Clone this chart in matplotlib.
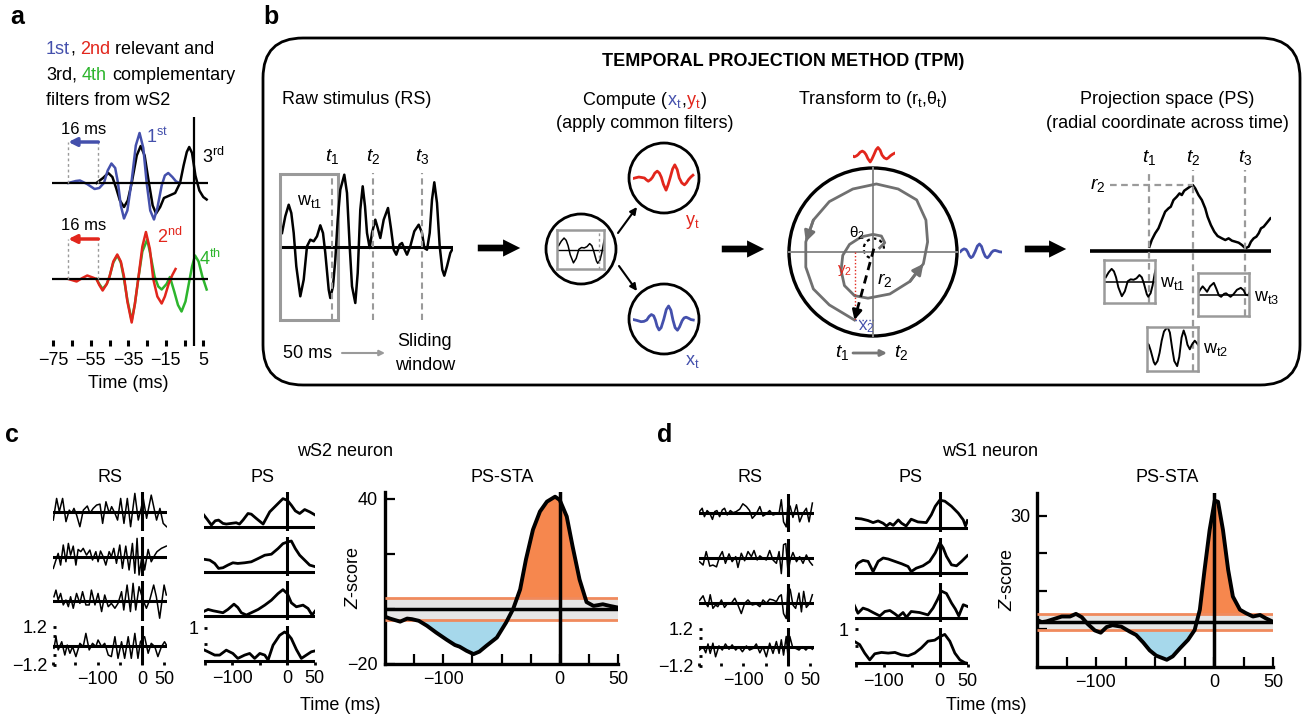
import matplotlib
matplotlib.use('Agg')
import matplotlib.pyplot as plt
import numpy as np
from matplotlib.patches import FancyBboxPatch, Circle, Rectangle, Arc, FancyArrowPatch

plt.rcParams.update({
    'font.family': ['Liberation Sans', 'DejaVu Sans'],
    'font.size': 13,
    'mathtext.fontset': 'custom',
    'mathtext.rm': 'Liberation Sans',
    'mathtext.it': 'Liberation Sans:italic',
    'mathtext.bf': 'Liberation Sans:bold',
    'mathtext.sf': 'Liberation Sans',
    'axes.unicode_minus': True,
})

# ---------------- data ----------------
# panel a : filters (time ms, amplitude)
f1_t = [-67, -63, -60.8, -57, -53, -50.5, -48, -46, -44, -42, -40.5, -39, -37.3, -35.5, -33.2, -31, -29, -27, -25.2,
        -23.3, -21.3, -19.5, -17.2, -15.5, -13.7, -11.5, -9.5, -7.5]
f1_v = [0, 0.04, 0.05, -0.02, -0.12, -0.1, 0.0, 0.25, 0.39, 0.3, 0.0, -0.45, -0.71, -0.55, 0.05, 0.75, 1.0, 0.7, 0.0,
        -0.55, -0.73, -0.5, -0.05, 0.15, 0.2, 0.12, 0.03, 0.0]
f2_t = [-67, -62.6, -59.5, -56.9, -54, -52, -50.5, -48.7, -46.5, -45, -43, -40.9, -39, -37.3, -35.5, -33.2, -31.5,
        -29.7, -27.5, -25.6, -23.5, -21.7, -19.5, -17.2, -15.5, -13.5, -11.5, -9.8]
f2_v = [0, -0.05, 0.02, 0.07, 0.03, 0, -0.12, -0.23, -0.1, 0.05, 0.35, 0.49, 0.35, 0.05, -0.45, -0.87, -0.5, 0.0, 0.65,
        0.94, 0.6, 0.0, -0.35, -0.49, -0.35, -0.1, 0.08, 0.2]
f3_t = [-52, -48.5, -45.7, -43.5, -41.5, -39.5, -37.3, -35.3, -33.2, -30.5, -28.4, -26.3, -24, -22, -20.2, -18, -16,
        -13, -10, -7.4, -5.5, -3.8, -2.5, -1, 0.8, 2.9, 5, 6.8]
f3_v = [0, 0.1, 0.2, 0.12, -0.1, -0.35, -0.48, -0.35, 0.0, 0.55, 0.74, 0.55, 0.0, -0.45, -0.61, -0.48, -0.3, -0.25,
        -0.2, 0.0, 0.35, 0.62, 0.72, 0.6, 0.15, -0.15, -0.28, -0.33]
f4_t = [-52, -50.5, -48.7, -46.5, -45, -43, -40.9, -39, -37.3, -35.5, -33.2, -31.5, -29.7, -27.5, -24.9, -23, -21, -19,
        -17.2, -14.6, -12.8, -10.5, -8.5, -6.6, -4.5, -2.5, -1, 0.6, 2.5, 4.5, 6.8]
f4_v = [0, -0.1, -0.2, -0.1, 0.05, 0.33, 0.47, 0.33, 0.0, -0.42, -0.83, -0.5, 0.0, 0.55, 0.79, 0.45, 0.05, -0.15,
        -0.21, -0.1, 0.04, -0.25, -0.52, -0.65, -0.45, -0.05, 0.25, 0.47, 0.35, 0.05, -0.21]
a_xticks = [-75, -65, -55, -45, -35, -25, -15, -5, 5]
a_xlabels = ['\u221275', '', '\u221255', '', '\u221235', '', '\u221215', '', '5']

# panel b : raw stimulus schematic
raw_t = [0, 3.3, 6.7, 9.3, 11.7, 14.3, 18.3, 21.7, 25, 28.3, 31.7, 35, 38.3, 41, 43.3, 46.7, 48.3, 51, 53.3, 55.7,
         58.3, 62.3, 65, 67.7, 70, 73.3, 75.7, 78.3, 80.7, 83, 85, 87.7, 90, 93.3, 95.7, 98.3, 101.7, 106, 109, 111.7,
         114.3, 117.7, 120, 122.7, 125, 128.3, 132.3, 136.7, 140, 142.3, 145, 147.7, 150, 152.3, 155, 157.7, 160.3,
         162.3, 165, 168.3, 171]
raw_a = [1.4, 3.07, 4.23, 3.4, 1.4, -1.93, -4.93, -3.27, 0.07, 0.73, 0.57, 1.07, 2.17, 1.4, -0.6, -4.27, -5.1, -3.93,
         -1.27, 2.73, 5.73, 7.23, 5.4, 0.07, -3.93, -5.6, -2.6, 3.73, 6.07, 4.07, 1.4, -0.1, 1.4, 2.73, 1.9, 0.9, 2.73,
         3.9, 1.83, -0.27, -0.77, 0.23, 0.4, -0.27, -0.77, 0.07, 1.57, 2.23, 1.4, -0.1, -0.27, 1.4, 4.73, 6.47, 4.4,
         0.07, -2.27, -2.87, -1.93, -0.6, -0.1]
raw_marks = [50, 91, 140]
# panel b : projection-space schematic
ps_t = [0, 2.3, 5.7, 9, 12.3, 15.7, 19, 21.3, 24, 27.3, 30, 32.3, 34.7, 38, 41.3, 43.3, 45.7, 49, 52.3, 55.7, 58, 61.3,
        64.7, 68, 72.3, 75.7, 79, 82.3, 85.7, 89, 92.3, 95.7, 99, 101.3, 104, 106.7, 109, 111.3, 114, 116.7, 120.7]
ps_r = [0.13, 0.33, 0.53, 0.68, 0.93, 1.18, 1.28, 1.33, 1.53, 1.63, 1.73, 1.68, 1.81, 1.88, 1.95, 1.98, 1.88, 1.68,
        1.53, 1.28, 1.03, 0.78, 0.58, 0.45, 0.38, 0.33, 0.38, 0.31, 0.28, 0.25, 0.18, 0.08, 0.13, 0.28, 0.38, 0.43,
        0.53, 0.68, 0.73, 0.83, 0.98]
ps_marks = [0, 43.3, 95.7]
# panel b : spiral (unit-circle coords)
spiral_x = [0.08, 0.14, 0.10, 0.0, -0.14, -0.28, -0.36, -0.38, -0.34, -0.22, -0.06, 0.20, 0.44, 0.60, 0.65, 0.63,
            0.52, 0.30, 0.04, -0.24, -0.52, -0.71, -0.80, -0.80, -0.71, -0.52, -0.22]
spiral_y = [0.05, 0.11, 0.19, 0.21, 0.18, 0.09, -0.04, -0.22, -0.40, -0.52, -0.55, -0.50, -0.35, -0.14, 0.12, 0.38,
            0.62, 0.75, 0.81, 0.75, 0.60, 0.38, 0.12, -0.18, -0.44, -0.63, -0.81]

# panel c : wS2 neuron
c_rs1_t = [-200, -192.5, -186.5, -179, -171.4, -164, -158.6, -153.4, -147.4, -140, -132.3, -123.3, -117.3, -110,
           -102.3, -94.7, -88.7, -81.2, -73.7, -68.4, -61, -55, -48, -40.6, -33, -25.6, -16, -8.3, -2, 3, 10.5, 21,
           33, 40.6, 48, 55.6]
c_rs1_v = [-0.53, 0.84, 0, 0.84, -0.63, 0.1, -0.1, 0.21, -0.21, -0.95, 0.1, 0.36, -0.1, 0.21, 0.42, 0.48, -0.74,
           0.63, -0.1, 0.32, -0.1, -0.53, 0.84, -0.74, 0.84, -0.95, 1.16, -0.53, 0.2, 0.84, -0.42, 1.05, -0.53, 0.21,
           -0.74, -0.95]
c_rs2_t = [-200, -194, -189, -183.5, -177.5, -171.5, -166, -161, -155, -149, -144, -138, -132.5, -125, -117.5, -111.5,
           -104, -99, -93.5, -87.5, -81.5, -74, -69, -63.5, -57.5, -50, -44, -36.5, -29, -21.5, -16, -11, -6.5, 1, 6,
           14, 21, 29, 34, 44, 55]
c_rs2_v = [-0.74, -0.21, 0.21, -0.53, 0.74, -0.32, 0.84, 0.1, 0.67, -0.53, 0.46, 0.32, 0.53, 0.1, 0.42, -0.21, 0.32,
           -0.32, 0.36, 0, -0.53, 0.32, 0, 0.53, -0.42, 0.74, -0.74, 0.67, -0.84, 0.84, -1.05, 1.16, -1.16, 0.21,
           -0.84, 0.46, -0.32, 0.1, 0.32, 0.53, 0.67]
c_rs3_t = [-198.5, -194, -189, -183.5, -177.5, -171.5, -166, -161, -155, -147.5, -140, -134, -126.5, -119, -114, -106,
           -99, -91, -84, -76, -69, -61, -54, -46, -41, -33.5, -26, -20, -14, -6.5, 2.5, 10, 17.5, 26.5, 32.5, 40,
           50, 55]
c_rs3_v = [0.27, 0.69, 0.06, 0.48, -0.25, 0.06, -0.36, 0.27, -0.46, 0.48, -0.15, 0.59, -0.25, -0.25, 0.69, -0.25,
           0.48, -0.67, 0.38, -0.36, -0.15, -0.46, -0.15, 0.59, -0.57, 1.01, -0.67, 1.12, -0.57, 0.91, 0.06, -0.46,
           0.06, 1.01, 0.27, -1.09, 1.01, 0.38]
c_rs4_t = [-198.5, -194, -189, -181, -174, -168.5, -162.5, -156.5, -149, -140, -132.5, -126.5, -119, -111.5, -104,
           -99, -91, -84, -76, -69, -61, -54, -46, -39, -31, -24, -16, -9, -3.5, 6, 14, 21, 29, 36, 44, 51, 56.5]
c_rs4_v = [-0.17, 0.57, -0.27, 0.25, -0.59, 0.04, -0.48, -0.06, -0.69, 0.15, -0.06, 0.78, -0.27, 0.15, -0.06, 0.36,
           -0.06, 0.15, -0.59, -0.69, 0.57, -0.8, 0.25, -0.8, 0.57, -0.8, 0.78, -0.8, 0.25, 0.57, -0.48, 0.15, -0.06,
           -0.69, -0.06, 0.25, -0.02]
c_ps1_t = [-153, -145.5, -138, -131, -125, -117, -111, -102, -93, -87, -80.6, -71.5, -65.5, -56.4, -44, -32, -20, -8,
           0, 7.3, 14.5, 22.4, 31.5, 40.6, 51]
c_ps1_v = [0.38, 0.22, 0.05, 0.18, 0.2, 0.1, 0.08, 0.1, 0.12, 0.08, 0.2, 0.4, 0.38, 0.25, 0.08, 0.45, 0.65, 0.85, 0.8,
           0.65, 0.48, 0.4, 0.52, 0.45, 0.35]
c_ps2_t = [-153, -141, -132, -125, -117, -108, -99, -90, -77.6, -65.5, -53, -41, -29, -17, -8, 0, 7.3, 14.5, 22.4,
           31.5, 40.6, 51]
c_ps2_v = [0.38, 0.35, 0.25, 0.1, 0.12, 0.2, 0.27, 0.25, 0.27, 0.3, 0.4, 0.5, 0.53, 0.7, 0.85, 0.9, 0.93, 0.7, 0.5,
           0.35, 0.2, 0.15]
c_ps3_t = [-153, -144, -135, -126, -117, -108, -97, -90, -83.6, -74.5, -65.5, -53, -41, -29, -17, -8, 0, 7.3, 16.4,
           28.5, 37.6, 45, 51]
c_ps3_v = [0.12, 0.19, 0.15, 0.12, 0.09, 0.19, 0.35, 0.25, 0.09, 0.02, 0.09, 0.19, 0.32, 0.47, 0.67, 0.79, 0.67, 0.39,
           0.27, 0.32, 0.22, 0.02, 0.15]
c_ps4_t = [-153, -144, -132, -123, -111, -99, -90, -77.6, -68.5, -59.4, -50, -41, -35, -26, -14, -5, 0, 7.3, 16.4,
           25.5, 34.5, 43.6, 51]
c_ps4_v = [0.34, 0.27, 0.17, 0.17, 0.32, 0.22, 0.07, 0.17, 0.22, 0.07, 0.22, 0.17, 0.02, 0.47, 0.77, 0.87, 0.82, 0.67,
           0.34, 0.07, 0.17, 0.27, 0.3]
c_sta_t = [-150, -145.7, -137, -131, -127, -121, -114, -106, -97, -90, -86, -80, -74, -69, -63, -54, -46, -40, -34,
           -29, -23, -17, -11, -4, 0, 6, 11, 17, 23, 29, 37, 43, 50]
c_sta_z = [-2.8, -3.5, -4.6, -3.5, -3.7, -4.3, -6.1, -8.6, -11.2, -13.1, -13.7, -15.2, -16.4, -15.5, -13.4, -10.4,
           -4.9, 0, 7.1, 18, 28.8, 35.4, 39, 40.8, 39.6, 33.6, 22.8, 10.7, 2.5, 1.1, 1.7, 1.1, 0.5]
c_band = (-3.9, 3.9, 0.0)

# panel d : wS1 neuron
d_rs1_t = [-198, -192, -187, -181, -175, -169, -164, -159, -153, -147, -142, -136, -129, -123, -116, -108, -101, -93,
           -86, -80, -71, -63, -56, -48.5, -41, -33.6, -26, -20, -15, -10, -4, 0, 5, 11, 19, 26, 33.6, 41, 47, 54.5]
d_rs1_v = [0.11, 0.33, -0.22, 0.18, 0, -0.4, 0.11, 0.18, -0.22, 0.22, 0.33, -0.11, 0.18, 0.04, 0.11, 0.27, 0.62,
           0.44, 0.18, -0.33, -0.04, 0.44, -0.18, -0.04, 0.18, -0.11, -0.04, 0, 0.89, -0.56, -0.89, 0.67, 0.44, -0.27,
           0.56, -0.56, 0, 0.33, -0.56, 0.67]
d_rs2_t = [-198, -190, -183, -175, -168, -160, -153, -147, -140, -132, -125, -117, -112, -104.5, -97, -89.5, -82, -76,
           -69, -63, -56, -48.5, -41, -33.6, -26, -20, -15, -10, -5, 0, 5, 11, 19, 26, 33.6, 41, 48.5, 54.5]
d_rs2_v = [-0.22, -0.44, 0.44, -0.51, -0.44, -0.56, 0.11, 0.44, -0.33, 0.29, -0.22, 0.11, -0.6, 0.33, -0.16, 0.44,
           0.11, 0.51, -0.11, 0.16, 0, -0.11, 0.51, -0.11, -0.33, 0.44, -1.0, 0.89, 0.96, -0.89, -0.11, 0.38, -0.22,
           0.11, -0.33, 0.22, -0.22, -0.44]
d_rs3_t = [-198, -190, -184, -179, -174, -168, -162, -157, -149, -142, -134, -127, -119, -112, -104.5, -97, -89.5, -80,
           -71, -63, -56, -48.5, -41, -33.6, -26, -20, -15, -10, -4, 0, 5, 11, 17, 24.6, 30, 35, 41, 48.5, 54.5]
d_rs3_v = [0.18, 0.49, 0, -0.22, 0.56, -0.33, -0.11, -0.22, 0.22, -0.27, 0.04, 0, 0.33, -0.11, -0.67, 0, 0.22, -0.11,
           -0.04, -0.22, 0.22, 0, 0.27, 0.22, 0.11, 0.44, 0.56, -0.67, -1.0, 1.11, 0.89, -0.11, -0.33, 0.67, -0.56,
           0.78, -0.27, 0, 0.56]
d_rs4_t = [-198, -190, -184, -179, -174, -168, -162, -154.5, -147, -140, -132, -125, -117, -110, -102, -93, -86, -78,
           -71, -63, -56, -48.5, -41, -33.6, -26, -20, -15, -10, -4, 0, 4, 10, 17, 24.6, 32, 40, 47, 54.5]
d_rs4_v = [-0.18, 0.04, -0.36, 0.22, -0.4, 0.27, -0.62, 0.09, -0.18, 0.22, -0.13, 0.16, -0.18, 0.04, -0.29, 0.09,
           -0.18, -0.07, 0.22, -0.36, 0.04, -0.62, 0.27, -0.4, 0.38, -0.4, 0.49, -0.51, 0.71, -0.62, 0.71, 0.04,
           -0.07, -0.18, 0.04, -0.18, 0.04, -0.13]
d_ps1_t = [-153, -140, -128, -119, -110, -101, -95, -89, -83, -74, -68, -60, -51, -39, -24, -15, -8, 0, 9, 21, 33, 42,
           46, 49.4]
d_ps1_v = [0.28, 0.26, 0.21, 0.15, 0.2, 0.13, 0.05, 0.13, 0.07, 0.23, 0.13, 0.05, 0.25, 0.17, 0.15, 0.38, 0.63, 0.81,
           0.78, 0.63, 0.43, 0.23, 0.05, 0.21]
d_ps2_t = [-153, -146, -137, -128, -119, -110, -101, -92, -80, -68, -56.5, -51, -42, -30, -18, -8, 0, 6, 12, 21, 30,
           39, 49.4]
d_ps2_v = [0.12, 0.3, 0.38, 0.35, 0.05, 0.35, 0.45, 0.42, 0.35, 0.28, 0.2, 0.05, 0.15, 0.22, 0.35, 0.6, 0.9, 0.75,
           0.5, 0.25, 0.22, 0.35, 0.52]
d_ps3_t = [-153, -146, -137, -128, -119, -107, -98, -89, -80, -74, -65.5, -59.5, -51, -36, -21, -12, -4, 3, 12, 21,
           28, 34, 42, 49.4]
d_ps3_v = [0.4, 0.15, 0.3, 0.25, 0.17, 0.07, 0.2, 0.23, 0.13, 0.05, 0.17, 0.03, 0.2, 0.17, 0.1, 0.3, 0.55, 0.8, 0.73,
           0.45, 0.27, 0.07, 0.4, 0.35]
d_ps4_t = [-153, -143, -134, -125, -116, -104, -92, -80, -68.5, -56.5, -44.6, -33, -21, -9, 0, 9, 18, 27, 36, 44.6,
           49.4]
d_ps4_v = [0.65, 0.55, 0.3, 0.1, 0.28, 0.32, 0.3, 0.32, 0.25, 0.22, 0.3, 0.45, 0.65, 0.68, 0.78, 0.85, 0.65, 0.3,
           0.1, 0.02, 0.0]
d_sta_t = [-150, -146, -142, -136, -129, -122, -117, -112, -107, -101, -96, -91, -86, -78.5, -71.5, -66, -60, -54.5,
           -49, -40, -35, -29, -22, -16.4, -12, -8, -3.7, 0.6, 3.4, 7.6, 12, 16, 22, 27, 33, 39, 44, 50]
d_sta_z = [2.3, 1.7, 1.9, 2.5, 3.2, 3.2, 3.9, 3.0, 1.2, -0.5, -1.1, 0.4, 0.9, 0.5, -0.8, -1.7, -3.7, -5.8, -7.2,
           -8.3, -7.4, -5.3, -3.0, -0.4, 5.0, 15.6, 26.2, 34, 33.7, 26.2, 15.6, 8.5, 5, 4.1, 3.2, 3.6, 2.7, 1.8]
d_band = (-0.4, 3.9, 1.8)

sta_xticks = [-125, -100, -75, -50, -25, 0, 25, 50]
sta_xlabels = ['', '\u2212100', '', '', '', '0', '', '50']

# ---------------- style ----------------
BLUE = '#4450AC'; RED = '#E2261C'; GREEN = '#2DB52D'; GREY = '#9a9a9a'; SPIRAL = '#707070'
ORANGE = '#F6874E'; ORANGE_LINE = '#F08A5D'; LBLUE = '#A6D8EB'; BAND = '#E6E6E6'

W, H = 1307, 720
fig = plt.figure(figsize=(W / 100, H / 100), dpi=100)
cv = fig.add_axes([0, 0, 1, 1])
cv.set_xlim(0, W); cv.set_ylim(H, 0); cv.axis('off')
REND = fig.canvas.get_renderer()


def T(x, y, s, size=13, ha='center', va='center', **kw):
    return cv.text(x, y, s, fontsize=size, ha=ha, va=va, **kw)


def text_w(s, size):
    t = cv.text(0, 0, s, fontsize=size)
    w = t.get_window_extent(REND).width
    t.remove()
    return w


def rainbow(x, y, pieces, size=13, ha='left'):
    sp = text_w('x x', size) - text_w('xx', size)
    items = []
    total = 0
    for s, c in pieces:
        core = s.strip(' ')
        lead = (len(s) - len(s.lstrip(' '))) * sp
        trail = (len(s) - len(s.rstrip(' '))) * sp
        w = text_w(core, size)
        items.append((core, c, lead, w, trail))
        total += lead + w + trail
    if ha == 'center':
        x -= total / 2
    for core, c, l, w, tr in items:
        x += l
        cv.text(x, y, core, color=c, fontsize=size, ha='left', va='baseline')
        x += w + tr


def pax(x0, y0, x1, y1):
    ax = fig.add_axes([x0 / W, 1 - y1 / H, (x1 - x0) / W, (y1 - y0) / H])
    ax.patch.set_visible(False)
    for s in ax.spines.values():
        s.set_visible(False)
    ax.set_xticks([]); ax.set_yticks([])
    return ax


def trace_ax(x0, x1, xlim, ybase, ppu, ylim):
    top = ybase - ylim[1] * ppu
    bot = ybase - ylim[0] * ppu
    ax = pax(x0, top, x1, bot)
    ax.set_xlim(*xlim); ax.set_ylim(*ylim)
    return ax


def arrow(ax, p0, p1, color='k', lw=1.5, ms=10):
    ax.annotate('', xy=p1, xytext=p0,
                arrowprops=dict(arrowstyle='-|>', color=color, lw=lw, mutation_scale=ms,
                                shrinkA=0, shrinkB=0))


def big_arrow(x0, x1, y):
    cv.add_patch(FancyArrowPatch((x0, y), (x1, y),
                                 arrowstyle='simple,head_length=0.95,head_width=0.95,tail_width=0.37',
                                 mutation_scale=13, color='k', lw=0))


# ================= panel a =================
T(17, 17, 'a', size=18, fontweight='bold')
rainbow(46, 54, [('1st', BLUE), (', ', 'k'), ('2nd', RED), (' relevant and', 'k')])
rainbow(46, 80, [('3rd, ', 'k'), ('4th', GREEN), (' complementary', 'k')])
rainbow(46, 105, [('filters from wS2', 'k')])

OFF = -1.92
axA = trace_ax(49.6, 208.9, (-77, 8), 183, 50, (-3.26, 1.32))
axA.plot(f3_t, f3_v, color='k', lw=1.8, solid_joinstyle='round')
axA.plot(f1_t, f1_v, color=BLUE, lw=1.8, solid_joinstyle='round')
axA.plot(f4_t, np.array(f4_v) + OFF, color=GREEN, lw=1.8, solid_joinstyle='round')
axA.plot(f2_t, np.array(f2_v) + OFF, color=RED, lw=1.8, solid_joinstyle='round')
axA.hlines([0, OFF], -75.5, 7.5, color='k', lw=1.6)
axA.axvline(0, color='k', lw=1.6)
axA.vlines([f1_t[0], f1_t[0] + 16], 0, 0.82, color=GREY, lw=1, linestyles=(0, (2, 2)))
axA.vlines([f2_t[0], f2_t[0] + 16], OFF, OFF + 0.8, color=GREY, lw=1, linestyles=(0, (2, 2)))
arrow(axA, (f1_t[0] + 16, 0.82), (f1_t[0], 0.82), color=BLUE, lw=2.5, ms=12)
arrow(axA, (f2_t[0] + 16, OFF + 0.8), (f2_t[0], OFF + 0.8), color=RED, lw=2.5, ms=12)
axA.text(f1_t[0] + 8, 1.08, '16 ms', ha='center', va='center', fontsize=12)
axA.text(f2_t[0] + 8, OFF + 1.08, '16 ms', ha='center', va='center', fontsize=12)
axA.text(-25.5, 0.92, '1$^{\\mathrm{st}}$', color=BLUE, fontsize=13, va='center')
axA.text(4.3, 0.52, '3$^{\\mathrm{rd}}$', color='k', fontsize=13, va='center')
axA.text(-19.7, OFF + 0.84, '2$^{\\mathrm{nd}}$', color=RED, fontsize=13, va='center')
axA.text(2.6, OFF + 0.4, '4$^{\\mathrm{th}}$', color=GREEN, fontsize=13, va='center')
axA.set_xticks(a_xticks)
axA.set_xticklabels(a_xlabels)
axA.tick_params(axis='x', direction='in', length=4, width=2.2, pad=4, labelsize=13)
T(128, 383, 'Time (ms)')

# ================= panel b =================
T(271, 17, 'b', size=18, fontweight='bold')
cv.add_patch(FancyBboxPatch((263, 38), 1037, 347, boxstyle='round,pad=0,rounding_size=40',
                            fc='none', ec='k', lw=2))
T(783, 62, 'TEMPORAL PROJECTION METHOD (TPM)', fontweight='bold')

# raw stimulus
T(357, 100, 'Raw stimulus (RS)')
axR = trace_ax(282, 453, (0, 171), 247, 10, (-8, 8))
axR.plot(raw_t, raw_a, color='k', lw=1.8, solid_joinstyle='round')
axR.axhline(0, color='k', lw=2.2)
axR.add_patch(Rectangle((raw_marks[0] - 52, -7.3), 58, 14.6, fill=False, ec=GREY, lw=2.2, clip_on=False))
axR.vlines(raw_marks, -7.3, 7.4, color=GREY, lw=1.5, linestyles=(0, (3, 2)))
for k, tm in enumerate(raw_marks):
    axR.text(tm, 9.0, '$t_%d$' % (k + 1), ha='center', va='center', fontsize=14)
T(310, 202, 'w$_{\\mathrm{t1}}$')
T(308, 353, '50 ms')
arrow(cv, (342, 353), (385, 353), color=GREY, lw=1.5, ms=8)
T(425, 342, 'Sliding')
T(425, 365, 'window')
big_arrow(475, 523, 248)

# compute
rainbow(645, 105, [('Compute (', 'k'), ('x$_\\mathrm{t}$', BLUE), (',', 'k'), ('y$_\\mathrm{t}$', RED), (')', 'k')],
        ha='center')
T(645, 123, '(apply common filters)')
cv.add_patch(Circle((581, 249), 35, fill=False, ec='k', lw=2))
axM = pax(557, 230, 604, 269)
axM.set_xlim(raw_marks[0] - 52, raw_marks[0] + 6); axM.set_ylim(-7.2, 7.2)
axM.plot(raw_t, raw_a, color='k', lw=1.1)
axM.axhline(0, color='k', lw=1.0)
axM.axvline(raw_marks[0], color=GREY, lw=1, ls=(0, (2, 2)))
for s in axM.spines.values():
    s.set_visible(True); s.set_color(GREY); s.set_linewidth(1.8)
cv.add_patch(Circle((664, 178), 35, fill=False, ec='k', lw=2))
cv.add_patch(Circle((664, 319), 35, fill=False, ec='k', lw=2))
axY = trace_ax(633, 695, (-62, -8), 178, 14, (-1.3, 1.3))
axY.plot(f2_t, f2_v, color=RED, lw=2)
axX = trace_ax(633, 695, (-60, -6), 320, 14, (-1.3, 1.3))
axX.plot(f1_t, f1_v, color=BLUE, lw=2)
T(692, 222, 'y$_\\mathrm{t}$', color=RED)
T(692, 362, 'x$_\\mathrm{t}$', color=BLUE)
arrow(cv, (618, 233), (637, 207), lw=1.5, ms=10)
arrow(cv, (619, 266), (637, 291), lw=1.5, ms=10)
big_arrow(719, 767, 249)

# transform
T(873, 100, 'Transform to (r$_\\mathrm{t}$,\u03b8$_\\mathrm{t}$)')
axC = pax(780.6, 159.6, 965.4, 344.4)
axC.set_xlim(-1.1, 1.1); axC.set_ylim(-1.1, 1.1)
axC.add_patch(Circle((0, 0), 1, fill=False, ec='k', lw=2.4))
axC.plot([-1, 1], [0, 0], color='#8a8a8a', lw=1.4)
axC.plot([0, 0], [-1, 1], color='#8a8a8a', lw=1.4)
axC.plot(spiral_x, spiral_y, color=SPIRAL, lw=2)
for i in (12, 21):
    arrow(axC, (spiral_x[i], spiral_y[i]), (spiral_x[i + 1], spiral_y[i + 1]), color=SPIRAL, lw=2, ms=16)
ex, ey = spiral_x[-1], spiral_y[-1]
axC.plot([0.01, ex + 0.02], [0.04, ey + 0.08], color='k', lw=2, ls=(0, (3, 2)))
arrow(axC, (ex + 0.03, ey + 0.12), (ex, ey), color='k', lw=2, ms=14)
axC.plot([ex, ex], [0, ey], color=RED, lw=1, ls=(0, (1, 1.5)))
axC.plot([ex, 0], [ey, ey], color=BLUE, lw=1, ls=(0, (1, 1.5)))
axC.add_patch(Arc((0.01, 0.04), 0.24, 0.24, theta1=0, theta2=255, color='k', lw=1.6, ls=(0, (1.5, 1.5))))
axC.text(-0.19, 0.22, '\u03b8$_2$', fontsize=11, ha='center', va='center')
axC.text(0.14, -0.33, '$r_2$', fontsize=14, ha='center', va='center')
axC.text(-0.34, -0.22, 'y$_2$', fontsize=11, color=RED, ha='center', va='center')
axC.text(-0.08, -0.9, 'x$_2$', fontsize=12, color=BLUE, ha='center', va='center')
axW1 = trace_ax(853, 895, (-50, -9), 155, 8, (-1.3, 1.3))
axW1.plot(f2_t, f2_v, color=RED, lw=2)
axW2 = trace_ax(960, 1002, (-48, -7), 252, 8, (-1.3, 1.3))
axW2.plot(f1_t, f1_v, color=BLUE, lw=2)
T(842, 353, '$t_1$', size=14)
arrow(cv, (853, 353), (887, 353), color='#777777', lw=2, ms=9)
T(901, 353, '$t_2$', size=14)
big_arrow(1022, 1069, 249)

# projection space
T(1167, 100, 'Projection space (PS)')
T(1167, 123, '(radial coordinate across time)')
axP = trace_ax(1090, 1271, (-59.3, 121.3), 251, 33.3, (-3.7, 2.5))
axP.plot(ps_t, ps_r, color='k', lw=1.8)
axP.axhline(0, color='k', lw=2.6)
for tm, yb in zip(ps_marks, (-1.56, -3.6, -1.95)):
    axP.vlines(tm, yb, 2.43, color=GREY, lw=1.6, linestyles=(0, (3, 2)), clip_on=False)
axP.hlines(max(ps_r), -39.3, ps_marks[1], color=GREY, lw=1.6, linestyles=(0, (3, 2)))
for k, tm in enumerate(ps_marks):
    axP.text(tm, 2.82, '$t_%d$' % (k + 1), ha='center', va='center', fontsize=14)
axP.text(-52, max(ps_r), '$r_2$', ha='center', va='center', fontsize=14)


def window(x0, y0, x1, y1, tk, base=True):
    ax = pax(x0, y0, x1, y1)
    ax.set_xlim(tk - 52, tk + 6); ax.set_ylim(-7.2, 7.2)
    ax.plot(raw_t, raw_a, color='k', lw=1.4)
    if base:
        ax.axhline(0, color='k', lw=1.1)
    for s in ax.spines.values():
        s.set_visible(True); s.set_color(GREY); s.set_linewidth(1.8)
    return ax


window(1104, 260, 1155, 303, raw_marks[0])
window(1147, 327, 1198, 371, raw_marks[1], base=False)
window(1198, 273, 1249, 316, raw_marks[2])
T(1160, 283, 'w$_{\\mathrm{t1}}$', ha='left')
T(1203, 349, 'w$_{\\mathrm{t2}}$', ha='left')
T(1254, 297, 'w$_{\\mathrm{t3}}$', ha='left')


# ================= panels c / d =================
def stacked(x0, x1, xlim, bases, ppu, ylim, series, lw, yticks, ylabels, xticks, xlabels):
    n = len(series)
    for i, (b, (t, v)) in enumerate(zip(bases, series)):
        ax = trace_ax(x0, x1, xlim, b, ppu, ylim)
        ax.plot(t, v, color='k', lw=lw)
        ax.axhline(0, color='k', lw=2.2)
        ax.axvline(0, color='k', lw=2.2)
        if i == n - 1:
            ax.set_xticks(xticks); ax.set_xticklabels(xlabels)
            ax.set_yticks(yticks); ax.set_yticklabels(ylabels)
            ax.tick_params(direction='in', length=2.5, width=2, pad=4, labelsize=13)


def sta(x0, x1, ytop, ybot, t, z, band, ylim, yticks, ylabels):
    lo, hi, mid = band
    ax = pax(x0, ytop, x1, ybot)
    ax.set_xlim(t[0], t[-1]); ax.set_ylim(*ylim)
    t = np.array(t); z = np.array(z)
    ax.fill_between([t[0], t[-1]], lo, hi, color=BAND, lw=0, zorder=1)
    ax.fill_between(t, z, hi, where=z >= hi, interpolate=True, color=ORANGE, lw=0, zorder=2)
    ax.fill_between(t, z, lo, where=z <= lo, interpolate=True, color=LBLUE, lw=0, zorder=2)
    ax.hlines([lo, hi], t[0], t[-1], color=ORANGE_LINE, lw=2, zorder=3)
    ax.axhline(mid, color='k', lw=2.5, zorder=3)
    ax.axvline(0, color='k', lw=2.5, zorder=4)
    ax.plot(t, z, color='k', lw=2.8, zorder=5, solid_joinstyle='round')
    for s in ('left', 'bottom'):
        ax.spines[s].set_visible(True); ax.spines[s].set_linewidth(2.4)
    ax.set_xticks(sta_xticks); ax.set_xticklabels(sta_xlabels)
    ax.set_yticks(yticks); ax.set_yticklabels(ylabels)
    ax.tick_params(direction='in', length=7, width=1.6, pad=5, labelsize=13)
    return ax


# panel c
T(12, 435, 'c', size=18, fontweight='bold')
T(345, 452, 'wS2 neuron')
T(110, 477, 'RS'); T(262, 477, 'PS'); T(502, 477, 'PS-STA')
stacked(53.3, 167.2, (-200, 57), [511.7, 556.7, 601, 645.7], 15.8, (-1.25, 1.25),
        [(c_rs1_t, c_rs1_v), (c_rs2_t, c_rs2_v), (c_rs3_t, c_rs3_v), (c_rs4_t, c_rs4_v)], 1.1,
        [-1.2, -0.6, 0, 0.6, 1.2], ['\u22121.2', '', '', '', '1.2'],
        [-200, -150, -100, -50, 0, 50], ['', '', '\u2212100', '', '0', '50'])
stacked(203.7, 315.4, (-152, 51), [526.7, 571.7, 615.7, 660.7], 33, (-0.12, 1.05),
        [(c_ps1_t, c_ps1_v), (c_ps2_t, c_ps2_v), (c_ps3_t, c_ps3_v), (c_ps4_t, c_ps4_v)], 2.0,
        [0, 0.5, 1], ['', '', '1'],
        [-150, -100, -50, 0, 50], ['', '\u2212100', '', '0', '50'])
sta(385, 618, 492, 664, c_sta_t, c_sta_z, c_band, (-20, 42.5), [-20, 0, 20, 40], ['\u221220', '', '', '40'])
T(354, 578, '$Z$-score', rotation=90)
T(340, 705, 'Time (ms)')

# panel d
T(665, 435, 'd', size=18, fontweight='bold')
T(990, 452, 'wS1 neuron')
T(750, 477, 'RS'); T(910, 477, 'PS'); T(1167, 477, 'PS-STA')
stacked(698.6, 813.5, (-200, 57), [513.3, 558.3, 603.3, 647.3], 15.3, (-1.25, 1.25),
        [(d_rs1_t, d_rs1_v), (d_rs2_t, d_rs2_v), (d_rs3_t, d_rs3_v), (d_rs4_t, d_rs4_v)], 1.1,
        [-1.2, -0.6, 0, 0.6, 1.2], ['\u22121.2', '', '', '', '1.2'],
        [-200, -150, -100, -50, 0, 50], ['', '', '\u2212100', '', '0', '50'])
stacked(854.6, 968.3, (-152, 51), [527.7, 573.3, 618.3, 663.3], 34, (-0.12, 1.05),
        [(d_ps1_t, d_ps1_v), (d_ps2_t, d_ps2_v), (d_ps3_t, d_ps3_v), (d_ps4_t, d_ps4_v)], 2.0,
        [0, 0.5, 1], ['', '', '1'],
        [-150, -100, -50, 0, 50], ['', '\u2212100', '', '0', '50'])
sta(1037, 1273, 492.7, 667.3, d_sta_t, d_sta_z, d_band, (-10.3, 36.1), [0, 10, 20, 30], ['', '', '', '30'])
T(1008, 580, '$Z$-score', rotation=90)
T(986, 705, 'Time (ms)')

fig.savefig('out.png', dpi=100)
